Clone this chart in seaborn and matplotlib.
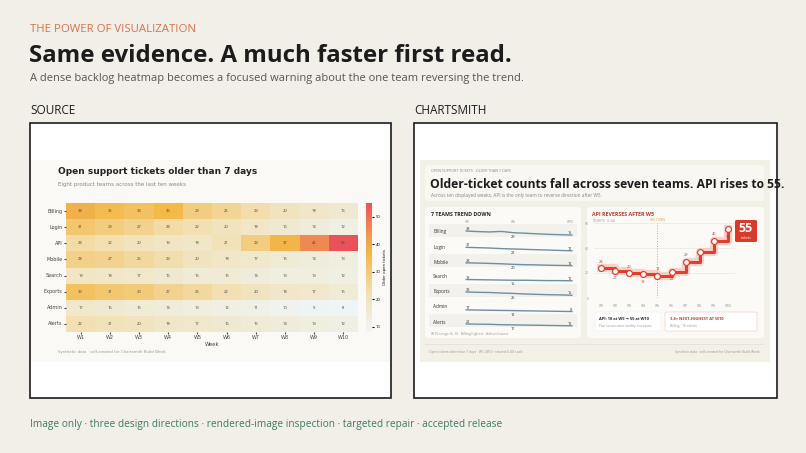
import numpy as np
import pandas as pd
import matplotlib
matplotlib.use("Agg")
import matplotlib.pyplot as plt
from matplotlib.colors import LinearSegmentedColormap
from matplotlib.patches import FancyBboxPatch, Rectangle
import seaborn as sns

# === DATA ===
teams = ["Billing", "Login", "API", "Mobile", "Search", "Exports", "Admin", "Alerts"]
weeks = ["W1", "W2", "W3", "W4", "W5", "W6", "W7", "W8", "W9", "W10"]
billing = [38, 35, 33, 36, 29, 26, 23, 20, 18, 16]
login = [31, 29, 27, 24, 22, 20, 18, 16, 14, 12]
api = [24, 22, 20, 19, 18, 21, 29, 37, 46, 55]
mobile = [28, 27, 25, 23, 20, 18, 17, 15, 14, 13]
search = [19, 18, 17, 16, 15, 15, 14, 13, 13, 12]
exports = [33, 31, 30, 27, 25, 22, 20, 18, 17, 15]
admin = [17, 16, 15, 14, 13, 12, 11, 10, 9, 8]
alerts = [22, 21, 20, 18, 17, 16, 15, 14, 13, 12]

df = pd.DataFrame([billing, login, api, mobile, search, exports, admin, alerts],
                  index=teams, columns=weeks)
down_teams = ["Billing", "Login", "Mobile", "Search", "Exports", "Admin", "Alerts"]

W, H = 806, 453
BG = "#f1efe8"
plt.rcParams['font.family'] = ['Open Sans', 'DejaVu Sans']
fig = plt.figure(figsize=(8.06, 4.53), dpi=100, facecolor=BG)


def fx(px):
    return px / W


def fy(py):
    return 1 - py / H


def ax_px(x0, y0, x1, y1):
    a = fig.add_axes([fx(x0), fy(y1), fx(x1 - x0), (y1 - y0) / H])
    a.set_zorder(5)
    a.patch.set_alpha(0)
    return a


def box(x0, y0, x1, y1, fc, ec="none", lw=1, r=0, z=-3):
    if r:
        p = FancyBboxPatch((fx(x0), fy(y1)), fx(x1 - x0), (y1 - y0) / H,
                           boxstyle=f"round,pad=0,rounding_size={r / W}",
                           fc=fc, ec=ec, lw=lw, transform=fig.transFigure, zorder=z)
    else:
        p = Rectangle((fx(x0), fy(y1)), fx(x1 - x0), (y1 - y0) / H,
                      fc=fc, ec=ec, lw=lw, transform=fig.transFigure, zorder=z)
    fig.patches.append(p)


def txt(px, py, s, **kw):
    kw.setdefault("zorder", 8)
    fig.text(fx(px), fy(py), s, **kw)


# === SLIDE HEADER ===
txt(30, 29, "THE POWER OF VISUALIZATION", color="#d8704a", fontsize=8.2, va="center")
txt(29, 56, "Same evidence. A much faster first read.", color="#1c1c1c", fontsize=17.3,
    fontweight="bold", va="center")
txt(30, 79, "A dense backlog heatmap becomes a focused warning about the one team reversing the trend.",
    color="#555555", fontsize=8, va="center")
txt(30, 111, "SOURCE", color="#1c1c1c", fontsize=8.5, va="center")
txt(414, 111, "CHARTSMITH", color="#1c1c1c", fontsize=8.5, va="center")
txt(30, 425, "Image only · three design directions · rendered-image inspection · targeted repair · accepted release",
    color="#3d7a5e", fontsize=7.3, va="center")

# frames
box(30, 123, 391, 398, "white", "#1c1c1c", 1.2, z=-5)
box(414, 123, 777, 398, "white", "#1c1c1c", 1.2, z=-5)

# === LEFT: SOURCE HEATMAP ===
box(31, 160, 390, 362, "#faf9f6", z=-4)
txt(58, 172, "Open support tickets older than 7 days", color="#222", fontsize=6.5,
    fontweight="bold", va="center", family="DejaVu Sans")
txt(58, 184, "Eight product teams across the last ten weeks", color="#888", fontsize=4,
    va="center", family="DejaVu Sans")
cmap = LinearSegmentedColormap.from_list(
    "heat", [(0, "#eef5f7"), (0.3, "#f2e0b3"), (0.6, "#f3b848"), (0.75, "#f09a4e"), (1, "#e9525a")])
hax = ax_px(66, 203, 358, 332)
cax = ax_px(366, 203, 372, 332)
sns.heatmap(df, ax=hax, cbar_ax=cax, cmap=cmap, vmin=8, vmax=55, annot=True, fmt="d",
            annot_kws={"fontsize": 3, "color": "#444"}, linewidths=0)
hax.tick_params(labelsize=3.5, length=1.5, pad=1, colors="#444")
hax.set_yticklabels(teams, rotation=0, family="DejaVu Sans")
hax.set_xticklabels(weeks, family="DejaVu Sans")
hax.set_xlabel("Week", fontsize=3.8, labelpad=1, family="DejaVu Sans", color="#444")
cax.set_yticks([10, 20, 30, 40, 50])
cax.tick_params(labelsize=3, length=1.5, pad=1)
cax.set_ylabel("Older open tickets", fontsize=3, labelpad=2)
txt(58, 352, "Synthetic data · self-created for Chartsmith Build Week", color="#999", fontsize=2.8,
    va="center", family="DejaVu Sans")

# === RIGHT: CHARTSMITH ===
box(420, 160, 770, 362, "#f3f0e8", z=-4)
box(425, 165, 764, 201, "#f9f7f2", r=4)
txt(431, 171, "OPEN SUPPORT TICKETS · OLDER THAN 7 DAYS", color="#888", fontsize=2.6, va="center")
txt(430, 185, "Older-ticket counts fall across seven teams. API rises to 55.", color="#1c1c1c",
    fontsize=8.7, fontweight="bold", va="center")
txt(431, 196, "Across ten displayed weeks, API is the only team to reverse direction after W5.",
    color="#888", fontsize=3.4, va="center")

# left card: sparklines
box(425, 207, 581, 338, "#fbfaf6", r=4)
txt(431, 214, "7 TEAMS TREND DOWN", color="#222", fontsize=3.8, fontweight="bold", va="center")
for lx, lab in [(467, "W1"), (513, "W5"), (570, "W10")]:
    txt(lx, 222, lab, color="#999", fontsize=2.4, va="center", ha="center")
row0, rstep = 230, 15
for i, t in enumerate(down_teams):
    yc = row0 + i * rstep
    box(429, yc - 6, 577, yc + 7, "#f3f1eb" if i % 2 == 0 else "#fbfaf6", z=-2)
    txt(433, yc + 2, t, color="#333", fontsize=3.4, va="center")
    sax = ax_px(465, yc - 3, 573, yc + 8)
    vals = df.loc[t].values
    sns.lineplot(x=np.arange(10), y=vals, ax=sax, color="#6d8fa3", lw=1.0)
    sax.set_xlim(-0.1, 9.1)
    sax.set_ylim(0, 60)
    sax.axis("off")
    sax.text(0, vals[0] + 5, str(vals[0]), fontsize=2.8, color="#333")
    sax.text(9, vals[9] + 5, str(vals[9]), fontsize=2.8, color="#333", ha="right")
    sax.text(4, vals[4] - 28, str(vals[4]), fontsize=2.8, color="#333", ha="center")
txt(431, 334, "W10 range: 8–16 · Billing highest · Admin lowest", color="#999", fontsize=2.5,
    va="center")

# right card: API step line
box(587, 207, 764, 338, "#fbfaf6", r=4)
txt(592, 214, "API REVERSES AFTER W5", color="#c0392b", fontsize=3.8, fontweight="bold", va="center")
txt(592, 221, "TICKETS · 0–60", color="#999", fontsize=2.4, va="center")
aax = ax_px(594, 223, 735, 298)
xs = np.arange(10)
aax.plot(xs, api, drawstyle="steps-post", color="#f6b3a8", lw=6, alpha=0.55)
aax.plot(xs, api, drawstyle="steps-post", color="#e0412f", lw=2.2)
sns.scatterplot(x=xs, y=api, ax=aax, s=18, color="white", edgecolor="#e0412f", linewidth=0.9, zorder=5)
aax.axvline(4, color="#e0a44a", ls=":", lw=0.7)
aax.text(4, 61, "W5 TURN", color="#e0a44a", fontsize=2.4, ha="center", va="bottom")
for i, v in enumerate(api):
    above = i in (0, 2, 4, 6, 8)
    aax.text(i, v + (5 if above else -6), str(v), fontsize=2.8, color="#c0392b",
             ha="center", va="center")
aax.set_xlim(-0.5, 9.5)
aax.set_ylim(0, 60)
aax.set_xticks(xs)
aax.set_xticklabels(weeks)
aax.set_yticks([0, 20, 40, 60])
aax.tick_params(labelsize=2.4, length=0, colors="#999", pad=4)
aax.grid(axis="y", color="#e5e2da", lw=0.4)
aax.set_axisbelow(True)
for s in aax.spines.values():
    s.set_visible(False)
box(735, 220, 757, 242, "#d83a2b", r=2, z=6)
txt(746, 229, "55", color="white", fontsize=9, fontweight="bold", ha="center", va="center")
txt(746, 238, "tickets", color="white", fontsize=2.3, ha="center", va="center")
box(595, 312, 661, 331, "white", "#eee", 0.4, r=2, z=6)
txt(599, 319, "API: 18 at W5 → 55 at W10", color="#222", fontsize=2.9, fontweight="bold",
    va="center")
txt(599, 326, "Five consecutive weekly increases", color="#999", fontsize=2.4, va="center")
box(665, 312, 757, 331, "white", "#f2c6bf", 0.4, r=2, z=6)
txt(670, 319, "3.4× NEXT-HIGHEST AT W10", color="#c0392b", fontsize=2.9, fontweight="bold",
    va="center")
txt(670, 326, "Billing · 16 tickets", color="#999", fontsize=2.4, va="center")

fig.add_artist(plt.Line2D([fx(425), fx(764)], [fy(344), fy(344)], color="#ddd9cf", lw=0.4))
txt(429, 352, "Open tickets older than 7 days · W1–W10 · shared 0–60 scale", color="#999",
    fontsize=2.4, va="center")
txt(760, 352, "Synthetic data · self-created for Chartsmith Build Week", color="#999",
    fontsize=2.4, va="center", ha="right")

fig.savefig("out.png", dpi=100, facecolor=BG)
